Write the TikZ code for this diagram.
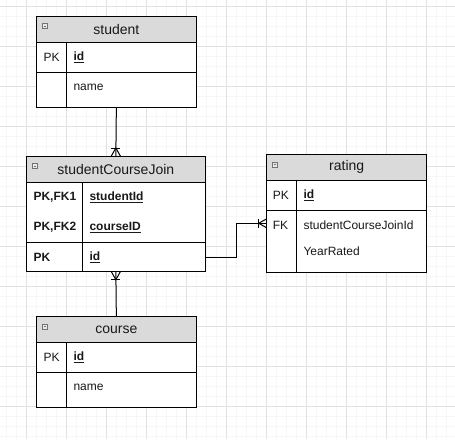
\documentclass[tikz,border=0pt]{standalone}
\usepackage{fontspec}
\setmainfont{Liberation Sans}
\usetikzlibrary{calc}
\definecolor{hdrgray}{RGB}{218,218,218}
\definecolor{minorgrid}{RGB}{247,247,247}
\definecolor{majorgrid}{RGB}{226,226,226}
\definecolor{icongray}{RGB}{115,115,115}
\definecolor{txt}{RGB}{25,25,25}
\tikzset{
  frame/.style={draw=black, line width=1pt, anchor=north west, inner sep=0pt, outer sep=0pt},
  head/.style={frame, fill=hdrgray},
  spot/.style={anchor=north west, inner sep=0pt, outer sep=0pt},
  title/.style={inner sep=0pt, text=txt, font=\fontsize{14}{16}\selectfont},
  cell/.style={anchor=west, inner sep=0pt, text=txt, font=\fontsize{12}{14}\selectfont},
  keycell/.style={cell, font=\bfseries\fontsize{12}{14}\selectfont},
  minus/.style={draw=icongray, fill=hdrgray!60, line width=0.6pt, minimum size=5pt, inner sep=0pt,
    path picture={\draw[icongray, line width=0.6pt] ($(path picture bounding box.west)+(1.2,0)$) -- ($(path picture bounding box.east)+(-1.2,0)$);}},
  divider/.style={draw=black, line width=1pt},
  conn/.style={draw=black, line width=1pt},
}
\begin{document}
\begin{tikzpicture}[x=1pt,y=-1pt]
\useasboundingbox (0,0) rectangle (455,439);
\fill[white] (0,0) rectangle (455,439);
% grid
\foreach \g in {6,16,...,446} \draw[minorgrid, line width=0.5pt] (\g,0) -- (\g,439);
\foreach \g in {6,16,...,436} \draw[minorgrid, line width=0.5pt] (0,\g) -- (455,\g);
\foreach \g in {26,66,...,426} \draw[majorgrid, line width=0.6pt] (\g,0) -- (\g,439);
\foreach \g in {6,46,...,406} \draw[majorgrid, line width=0.6pt] (0,\g) -- (455,\g);

% ---------- student ----------
\node[frame, fill=white, minimum width=159.3pt, minimum height=91.7pt] (student) at (36.7,16) {};
\node[head, minimum width=159.3pt, minimum height=26.3pt] (studenthead) at (36.7,16) {};
\node[title] (studenttitle) at (studenthead.center) {student};
\node[minus] (studenticon) at ($(studenthead.north west)+(8.3,10)$) {};
\node[frame, minimum width=159.3pt, minimum height=30pt] (studentrow1) at (36.7,42.3) {};
\draw[divider] (66,42.3) -- (66,107.7);
\node[cell] (studentpk) at (43.3,57) {PK};
\node[keycell] (studentid) at (73.3,57) {\underline{id}};
\node[cell] (studentname) at (73.3,87) {name};

% ---------- studentCourseJoin ----------
\node[frame, fill=white, minimum width=178.3pt, minimum height=115.7pt] (join) at (26.7,156) {};
\node[head, minimum width=178.3pt, minimum height=26.3pt] (joinhead) at (26.7,156) {};
\node[title] (jointitle) at (joinhead.center) {studentCourseJoin};
\node[minus] (joinicon) at ($(joinhead.north west)+(8.3,10)$) {};
\node[frame, minimum width=178.3pt, minimum height=29pt] (joinid) at (26.7,242.7) {};
\draw[divider] (82.3,182.3) -- (82.3,271.7);
\node[keycell] (joinpk1) at (33.3,197) {PK,FK1};
\node[keycell] (joinsid) at (89.3,197) {\underline{studentId}};
\node[keycell] (joinpk2) at (33.3,227.3) {PK,FK2};
\node[keycell] (joincid) at (89.3,227.3) {\underline{courseID}};
\node[keycell] (joinpk3) at (33.3,257) {PK};
\node[keycell] (joinidt) at (89.3,257) {\underline{id}};

% ---------- rating ----------
\node[frame, fill=white, minimum width=160pt, minimum height=117.7pt] (rating) at (266.7,154.3) {};
\node[head, minimum width=160pt, minimum height=25.7pt] (ratinghead) at (266.7,154.3) {};
\node[title] (ratingtitle) at (ratinghead.center) {rating};
\node[minus] (ratingicon) at ($(ratinghead.north west)+(8.3,10)$) {};
\node[frame, minimum width=160pt, minimum height=30.3pt] (ratingrow1) at (266.7,180) {};
\node[spot, minimum width=160pt, minimum height=26pt] (ratingfk) at (266.7,210.3) {};
\draw[divider] (296.7,180) -- (296.7,272);
\node[cell] (ratingpk) at (272.7,195) {PK};
\node[keycell] (ratingid) at (303.3,195) {\underline{id}};
\node[cell] (ratingfkt) at (272.7,225) {FK};
\node[cell] (ratingscj) at (303.3,225) {studentCourseJoinId};
\node[cell] (ratingyear) at (303.3,251) {YearRated};

% ---------- course ----------
\node[frame, fill=white, minimum width=159.3pt, minimum height=91pt] (course) at (36.7,316.7) {};
\node[head, minimum width=159.3pt, minimum height=25.6pt] (coursehead) at (36.7,316.7) {};
\node[title] (coursetitle) at (coursehead.center) {course};
\node[minus] (courseicon) at ($(coursehead.north west)+(8.3,10)$) {};
\node[frame, minimum width=159.3pt, minimum height=30pt] (courserow1) at (36.7,342.3) {};
\draw[divider] (66,342.3) -- (66,407.7);
\node[cell] (coursepk) at (43.3,357) {PK};
\node[keycell] (courseid) at (73.3,357) {\underline{id}};
\node[cell] (coursename) at (73.3,387) {name};

% ---------- connectors ----------
\draw[conn] (student.south) -- (join.north);
\draw[conn] ($(join.north)+(-4.5,0)$) -- ($(join.north)+(0,-8)$) -- ($(join.north)+(4.5,0)$);
\draw[conn] ($(join.north)+(-4.5,-8)$) -- ($(join.north)+(4.5,-8)$);

\draw[conn] (join.south) -- (course.north);
\draw[conn] ($(join.south)+(-4.5,0)$) -- ($(join.south)+(0,8)$) -- ($(join.south)+(4.5,0)$);
\draw[conn] ($(join.south)+(-4.5,8)$) -- ($(join.south)+(4.5,8)$);

\draw[conn] (joinid.east) -- ++(31,0) |- (ratingfk.west);
\draw[conn] ($(ratingfk.west)+(0,-4.5)$) -- ($(ratingfk.west)+(-8,0)$) -- ($(ratingfk.west)+(0,4.5)$);
\draw[conn] ($(ratingfk.west)+(-8,-4.5)$) -- ($(ratingfk.west)+(-8,4.5)$);
\end{tikzpicture}
\end{document}
